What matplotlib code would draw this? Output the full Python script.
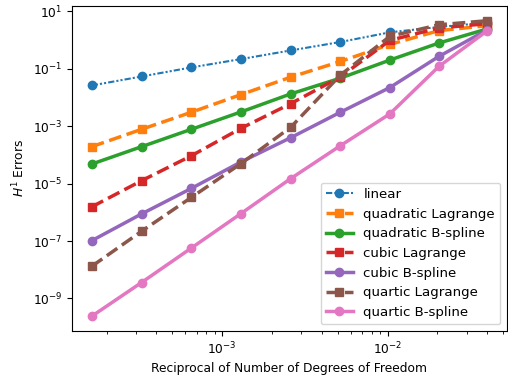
import numpy as np
import matplotlib
matplotlib.use("Agg")
import matplotlib.pyplot as plt

# Mesh refinement levels: number of degrees of freedom
dof = np.array([6145, 3073, 1537, 769, 385, 193, 97, 49, 25])
h = 1.0 / dof

# H^1 errors for each discretisation
err_linear = [0.0261, 0.0537, 0.111, 0.217, 0.434, 0.853, 1.85, 2.85, 4.0]
err_quad_lag = [1.93e-4, 7.78e-4, 3.05e-3, 1.26e-2, 0.051, 0.179, 0.70, 2.12, 3.16]
err_quad_bsp = [4.79e-5, 1.93e-4, 7.78e-4, 3.14e-3, 0.0133, 0.047, 0.20, 0.785, 2.43]
err_cub_lag = [1.55e-6, 1.26e-5, 9.3e-5, 8.45e-4, 6.1e-3, 0.052, 0.97, 2.63, 3.7]
err_cub_bsp = [1.03e-7, 8.8e-7, 6.8e-6, 5.7e-5, 3.98e-4, 3.06e-3, 0.0221, 0.268, 2.25]
err_quar_lag = [1.32e-8, 2.19e-7, 3.3e-6, 5.0e-5, 9.2e-4, 0.06, 1.34, 3.4, 4.7]
err_quar_bsp = [2.41e-10, 3.6e-9, 5.7e-8, 9.1e-7, 1.5e-5, 2.09e-4, 2.67e-3, 0.12, 2.1]

labels = ["linear", "quadratic Lagrange", "quadratic B-spline", "cubic Lagrange",
          "cubic B-spline", "quartic Lagrange", "quartic B-spline"]

plt.rcParams["font.family"] = ["DejaVu Sans"]
plt.rcParams["font.size"] = 8.8

fig = plt.figure(figsize=(5.08, 3.78), dpi=100)
ax = fig.add_axes([0.1417, 0.1243, 0.8563, 0.86])

ax.loglog(h, err_linear, color="C0", marker="o", ms=6, lw=1.5,
          linestyle=(0, (3, 1, 1, 1, 1, 1)), label=labels[0])
ax.loglog(h, err_quad_lag, color="C1", marker="s", ms=6, lw=2.5, linestyle="--", label=labels[1])
ax.loglog(h, err_quad_bsp, color="C2", marker="o", ms=6, lw=2.5, linestyle="-", label=labels[2])
ax.loglog(h, err_cub_lag, color="C3", marker="s", ms=6, lw=2.5, linestyle="--", label=labels[3])
ax.loglog(h, err_cub_bsp, color="C4", marker="o", ms=6, lw=2.5, linestyle="-", label=labels[4])
ax.loglog(h, err_quar_lag, color="C5", marker="s", ms=6, lw=2.5, linestyle="--", label=labels[5])
ax.loglog(h, err_quar_bsp, color="C6", marker="o", ms=6, lw=2.5, linestyle="-", label=labels[6])

ax.set_xlabel("Reciprocal of Number of Degrees of Freedom", labelpad=3)
ax.set_ylabel("$H^1$ Errors")
ax.legend(loc="lower right", fontsize=9.6, labelspacing=0.5)

fig.savefig("out.png", dpi=100)
